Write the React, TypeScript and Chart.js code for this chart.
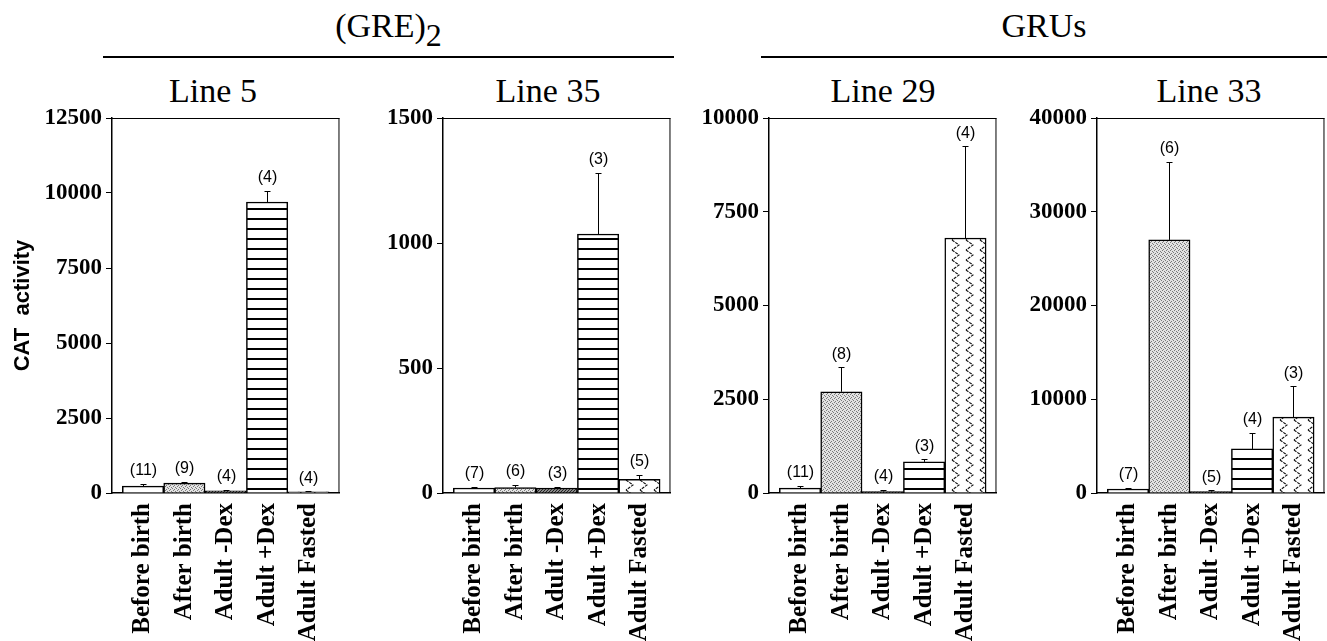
import React, { useEffect, useRef } from 'react';
import { Chart, registerables } from 'chart.js';
Chart.register(...registerables);

// ---------- data ----------
const categories = ['Before birth', 'After birth', 'Adult -Dex', 'Adult +Dex', 'Adult Fasted'];

const line5Values = [230, 330, 70, 9700, 40];
const line5Errors = [70, 40, 30, 370, 20];
const line5Counts = ['(11)', '(9)', '(4)', '(4)', '(4)'];
const line5Ticks = [0, 2500, 5000, 7500, 10000, 12500];

const line35Values = [20, 22, 20, 1036, 55];
const line35Errors = [6, 10, 6, 245, 17];
const line35Counts = ['(7)', '(6)', '(3)', '(3)', '(5)'];
const line35Ticks = [0, 500, 1000, 1500];

const line29Values = [130, 2700, 40, 830, 6800];
const line29Errors = [70, 650, 40, 70, 2450];
const line29Counts = ['(11)', '(8)', '(4)', '(3)', '(4)'];
const line29Ticks = [0, 2500, 5000, 7500, 10000];

const line33Values = [430, 27000, 150, 4700, 8100];
const line33Errors = [100, 8300, 150, 1700, 3300];
const line33Counts = ['(7)', '(6)', '(5)', '(4)', '(3)'];
const line33Ticks = [0, 10000, 20000, 30000, 40000];

const panelTitles = ['Line 5', 'Line 35', 'Line 29', 'Line 33'];
const groupTitles = ['(GRE)', 'GRUs'];
const yAxisTitle = 'CAT  activity';

// ---------- layout ----------
const PLOT_TOP = 118;
const PLOT_BOTTOM = 493;
const PLOT_W = 233;
const CANVAS_TOP = 100;
const CANVAS_H = 600;

function makePatterns() {
  const mk = (w: number, h: number, draw: (c: CanvasRenderingContext2D) => void) => {
    const cv = document.createElement('canvas');
    cv.width = w; cv.height = h;
    const c = cv.getContext('2d')!;
    draw(c);
    return c.createPattern(cv, 'repeat')!;
  };
  const white = '#ffffff';
  const stippleLight = mk(4, 4, (c) => {
    c.fillStyle = '#e2e2e2'; c.fillRect(0, 0, 4, 4);
    c.fillStyle = '#7a7a7a';
    [[0, 0], [2, 1], [1, 2], [3, 3]].forEach(([x, y]) => c.fillRect(x, y, 1, 1));
  });
  const stippleDark = mk(3, 3, (c) => {
    c.fillStyle = '#8a8a8a'; c.fillRect(0, 0, 3, 3);
    c.fillStyle = '#222';
    [[0, 0], [2, 1], [1, 2]].forEach(([x, y]) => c.fillRect(x, y, 1, 1));
  });
  const stripes = mk(8, 10, (c) => {
    c.fillStyle = '#fff'; c.fillRect(0, 0, 8, 10);
    c.fillStyle = '#000'; c.fillRect(0, 8, 8, 2);
  });
  const zigzag = mk(14, 10, (c) => {
    c.fillStyle = '#fff'; c.fillRect(0, 0, 14, 10);
    c.strokeStyle = '#111'; c.lineWidth = 1.1;
    c.setLineDash([3, 1]);
    c.beginPath();
    c.moveTo(3, 0); c.lineTo(10, 5); c.lineTo(3, 10);
    c.stroke();
  });
  return [white, stippleLight, stippleDark, stripes, zigzag];
}

type PanelProps = {
  values: number[];
  errors: number[];
  counts: string[];
  ticks: number[];
  axisX: number;
  axisW: number;
  showYTitle?: boolean;
};

function Panel({ values, errors, counts, ticks, axisX, axisW, showYTitle }: PanelProps) {
  const ref = useRef<HTMLCanvasElement | null>(null);
  const canvasW = axisW + PLOT_W + 4;
  useEffect(() => {
    if (!ref.current) return;
    const patterns = makePatterns();
    const serifBold = { family: '"Liberation Serif", serif', size: 23, weight: 'bold' as const };
    const serifBoldX = { family: '"Liberation Serif", serif', size: 25, weight: 'bold' as const };
    const overlay = {
      id: 'overlay' + axisX,
      afterDatasetsDraw(chart: any) {
        const { ctx, chartArea, scales } = chart;
        ctx.save();
        ctx.strokeStyle = '#000';
        ctx.lineWidth = 1;
        ctx.beginPath();
        ctx.moveTo(chartArea.left, chartArea.top + 0.5);
        ctx.lineTo(chartArea.right, chartArea.top + 0.5);
        ctx.moveTo(chartArea.right - 0.5, chartArea.top);
        ctx.lineTo(chartArea.right - 0.5, chartArea.bottom);
        ctx.stroke();
        values.forEach((v, i) => {
          const x = Math.round(scales.x.getPixelForValue(i)) + 0.5;
          const yBar = scales.y.getPixelForValue(v);
          const yErr = scales.y.getPixelForValue(v + errors[i]);
          ctx.beginPath();
          ctx.moveTo(x, yBar);
          ctx.lineTo(x, Math.round(yErr) + 0.5);
          ctx.moveTo(x - 3, Math.round(yErr) + 0.5);
          ctx.lineTo(x + 3, Math.round(yErr) + 0.5);
          ctx.stroke();
          ctx.fillStyle = '#000';
          ctx.font = '16px "Liberation Sans", Arial, sans-serif';
          ctx.textAlign = 'center';
          ctx.textBaseline = 'bottom';
          ctx.fillText(counts[i], x, yErr - 5);
        });
        ctx.restore();
      },
    };
    const chart = new Chart(ref.current, {
      type: 'bar',
      data: {
        datasets: [
          {
            data: values.map((v, i) => ({ x: i, y: v })),
            backgroundColor: patterns as any,
            borderColor: '#000',
            borderWidth: 1.5,
            barPercentage: 1,
            categoryPercentage: 1,
          },
        ],
      },
      options: {
        responsive: false,
        animation: false,
        devicePixelRatio: 1,
        layout: { padding: { top: PLOT_TOP - CANVAS_TOP, right: 4, left: 0, bottom: 0 } },
        plugins: { legend: { display: false }, tooltip: { enabled: false }, title: { display: false } },
        scales: {
          x: {
            type: 'linear',
            offset: false,
            min: -0.75,
            max: 4.75,
            afterBuildTicks: (s: any) => { s.ticks = categories.map((_, i) => ({ value: i })); },
            afterFit: (s: any) => { s.height = CANVAS_H - (PLOT_BOTTOM - CANVAS_TOP); },
            grid: { display: true, offset: false, drawOnChartArea: false, drawTicks: false },
            border: { display: true, color: '#000', width: 1.5 },
            ticks: {
              autoSkip: false,
              minRotation: 90,
              maxRotation: 90,
              padding: 10,
              color: '#000',
              font: serifBoldX,
              callback: (v: any) => categories[Number(v)] ?? '',
            },
          },
          y: {
            type: 'linear',
            min: ticks[0],
            max: ticks[ticks.length - 1],
            afterBuildTicks: (s: any) => { s.ticks = ticks.map((t) => ({ value: t })); },
            afterFit: (s: any) => { s.width = axisW; },
            grid: { display: true, drawOnChartArea: false, drawTicks: true, tickLength: 6, color: '#000', lineWidth: 1 },
            border: { display: true, color: '#000', width: 1.5 },
            ticks: {
              padding: 4,
              color: '#000',
              font: serifBold,
              callback: (v: any) => String(v),
            },
            title: {
              display: !!showYTitle,
              text: yAxisTitle,
              color: '#000',
              font: { family: '"Liberation Sans", Arial, sans-serif', size: 22, weight: 'bold' },
              padding: { top: 10, bottom: 0 },
            },
          },
        },
      },
      plugins: [overlay],
    });
    return () => chart.destroy();
  }, []);
  return (
    <canvas
      ref={ref}
      width={canvasW}
      height={CANVAS_H}
      style={{ position: 'absolute', left: axisX - axisW, top: CANVAS_TOP, width: canvasW, height: CANVAS_H }}
    />
  );
}

const titleStyle: React.CSSProperties = {
  position: 'absolute',
  fontFamily: '"Liberation Serif", serif',
  fontSize: 34,
  lineHeight: '40px',
  color: '#000',
  textAlign: 'center',
  whiteSpace: 'nowrap',
};

export default function App() {
  return (
    <div
      style={{
        position: 'fixed',
        left: 0,
        top: 0,
        width: 1327,
        height: 641,
        overflow: 'hidden',
        background: '#fff',
      }}
    >
      {/* group titles */}
      <div style={{ ...titleStyle, left: 103, width: 571, top: 6 }}>
        {groupTitles[0]}
        <sub style={{ fontSize: 32, verticalAlign: '-9px', lineHeight: 0 }}>2</sub>
      </div>
      <div style={{ position: 'absolute', left: 103, width: 571, top: 56, height: 2, background: '#000' }} />
      <div style={{ ...titleStyle, left: 761, width: 566, top: 6 }}>{groupTitles[1]}</div>
      <div style={{ position: 'absolute', left: 761, width: 566, top: 56, height: 2, background: '#000' }} />

      {/* panel titles */}
      <div style={{ ...titleStyle, left: 113, width: 200, top: 71 }}>{panelTitles[0]}</div>
      <div style={{ ...titleStyle, left: 448, width: 200, top: 71 }}>{panelTitles[1]}</div>
      <div style={{ ...titleStyle, left: 783, width: 200, top: 71 }}>{panelTitles[2]}</div>
      <div style={{ ...titleStyle, left: 1109, width: 200, top: 71 }}>{panelTitles[3]}</div>

      <Panel values={line5Values} errors={line5Errors} counts={line5Counts} ticks={line5Ticks} axisX={112} axisW={112} showYTitle />
      <Panel values={line35Values} errors={line35Errors} counts={line35Counts} ticks={line35Ticks} axisX={443} axisW={100} />
      <Panel values={line29Values} errors={line29Errors} counts={line29Counts} ticks={line29Ticks} axisX={769} axisW={100} />
      <Panel values={line33Values} errors={line33Errors} counts={line33Counts} ticks={line33Ticks} axisX={1097} axisW={100} />
    </div>
  );
}
